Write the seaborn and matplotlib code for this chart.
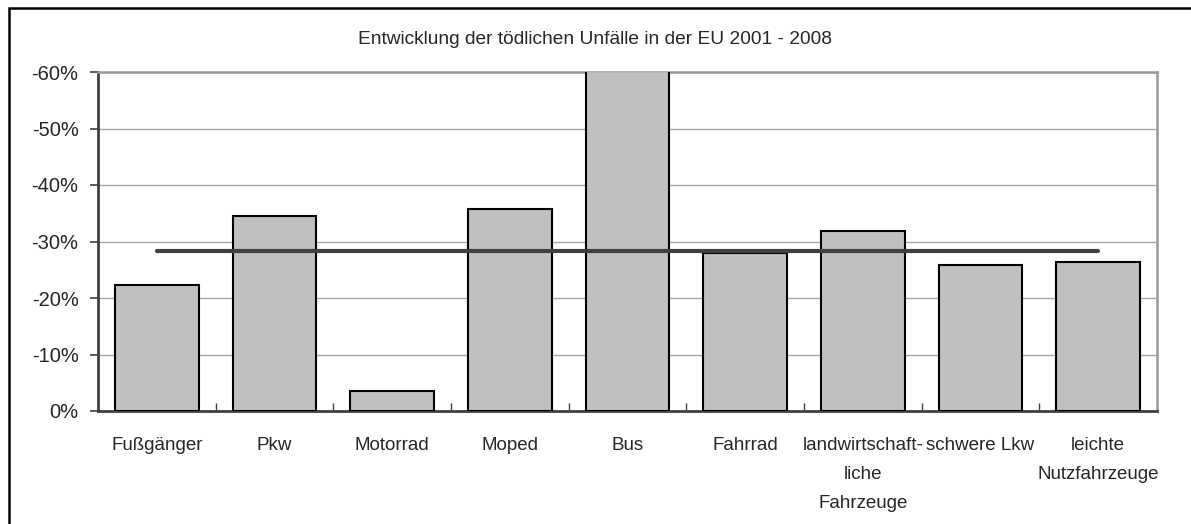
import matplotlib
matplotlib.use("Agg")
import matplotlib.pyplot as plt
import matplotlib.patches as mpatches
import seaborn as sns
import pandas as pd

# Daten (Veränderung 2001 - 2008, in %)
categories = ["Fußgänger", "Pkw", "Motorrad", "Moped", "Bus", "Fahrrad",
              "landwirtschaft-\nliche\nFahrzeuge", "schwere Lkw",
              "leichte\nNutzfahrzeuge"]
values = [-22.3, -34.6, -3.6, -35.8, -60.1, -27.9, -31.9, -25.8, -26.4]
average = -28.3
yticks = [0, -10, -20, -30, -40, -50, -60]

df = pd.DataFrame({"Kategorie": categories, "Wert": values})

sns.set_style("white")
plt.rcParams["font.family"] = ["Liberation Sans", "DejaVu Sans"]

fig = plt.figure(figsize=(11.91, 5.24), dpi=100)
ax = fig.add_axes([98 / 1191, 113 / 524, 1059 / 1191, 339 / 524])

# outer chart frame (only top/left visible)
fig.patches.append(mpatches.Rectangle((9 / 1191, -0.1), 1.2, 516 / 524 + 0.1,
                                      transform=fig.transFigure, fill=False,
                                      edgecolor="black", linewidth=1.8, zorder=0))

sns.barplot(data=df, x="Kategorie", y="Wert", ax=ax, color="#c0c0c0",
            edgecolor="black", linewidth=1.5, width=0.71, saturation=1, zorder=3)

# average line from first to last category
ax.plot([0, len(categories) - 1], [average, average], color="#404040",
        linewidth=3, zorder=4)

ax.set_xlim(-0.5, len(categories) - 0.5)
ax.set_ylim(0, -60)
ax.set_yticks(yticks)
ax.set_yticklabels([f"{v}%" for v in yticks], fontsize=14.5)
ax.yaxis.grid(True, color="#a8a8a8", linewidth=1)
ax.set_axisbelow(True)

ax.set_xticks(range(len(categories)))
ax.set_xticklabels(categories, fontsize=13.5, linespacing=1.9, va="top")
ax.tick_params(axis="x", length=0, pad=19)
ax.tick_params(axis="y", length=6, width=1.2, color="#404040", pad=8,
               direction="out", left=True)

# minor ticks at category boundaries, pointing inward
ax.set_xticks([i + 0.5 for i in range(len(categories) - 1)], minor=True)
ax.tick_params(axis="x", which="minor", length=6, width=1, color="#404040",
               direction="in", bottom=True)

ax.set_xlabel("")
ax.set_ylabel("")

for side in ["left", "bottom"]:
    ax.spines[side].set_color("#404040")
    ax.spines[side].set_linewidth(2)
for side in ["right", "top"]:
    ax.spines[side].set_color("#999999")
    ax.spines[side].set_linewidth(1.8)
    ax.spines[side].set_visible(True)

fig.text(0.5, 484 / 524, "Entwicklung der tödlichen Unfälle in der EU 2001 - 2008",
         ha="center", va="center", fontsize=13.8)

fig.savefig("out.png", dpi=100)
